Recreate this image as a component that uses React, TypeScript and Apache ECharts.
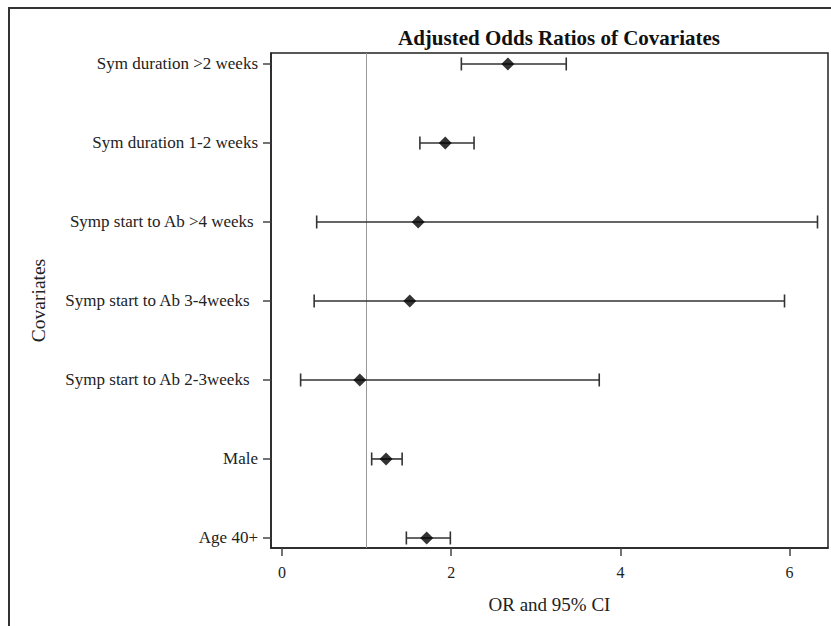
import React, { useEffect, useRef } from "react";
import * as echarts from "echarts";

const categories = [
  "Age 40+",
  "Male",
  "Symp start to Ab 2-3weeks  ",
  "Symp start to Ab 3-4weeks  ",
  "Symp start to Ab >4 weeks ",
  "Sym duration 1-2 weeks",
  "Sym duration >2 weeks",
];
const oddsRatio = [1.71, 1.23, 0.92, 1.51, 1.61, 1.93, 2.67];
const lowerCI = [1.47, 1.06, 0.22, 0.38, 0.41, 1.63, 2.12];
const upperCI = [1.99, 1.42, 3.75, 5.94, 6.33, 2.27, 3.36];
const xTicks = [0, 2, 4, 6];
const refValue = 1;

const FONT = "'Liberation Serif', 'DejaVu Serif', serif";

export default function App() {
  const ref = useRef<HTMLDivElement>(null);
  useEffect(() => {
    if (!ref.current) return;
    const chart = echarts.init(ref.current, null, { renderer: "svg" });
    const idx = categories.map((_, i) => i);
    const ciData = idx.map((i) => [lowerCI[i], upperCI[i], i]);
    const pointData = idx.map((i) => [oddsRatio[i], i]);
    chart.setOption({
      animation: false,
      backgroundColor: "#fff",
      title: {
        text: "Adjusted Odds Ratios of Covariates",
        left: 554,
        top: 22,
        textAlign: "center",
        textStyle: { fontFamily: FONT, fontSize: 21, fontWeight: "bold", color: "#111" },
      },
      graphic: [
        {
          type: "rect",
          shape: { x: 9, y: 8, width: 1000, height: 800 },
          style: { fill: "none", stroke: "#333", lineWidth: 2 },
          silent: true,
        },
      ],
      grid: {
        left: 271,
        top: 53,
        width: 557,
        height: 495,
        show: true,
        borderColor: "#222",
        borderWidth: 1.5,
        backgroundColor: "transparent",
      },
      xAxis: {
        type: "value",
        min: -0.13,
        max: 6.454,
        name: "OR and 95% CI",
        nameLocation: "middle",
        nameGap: 47,
        nameTextStyle: { fontFamily: FONT, fontSize: 19, color: "#222" },
        splitLine: { show: false },
        axisLine: { show: true, onZero: false, lineStyle: { color: "#222", width: 1.5 } },
        axisTick: { show: true, length: 8, customValues: xTicks, lineStyle: { color: "#444", width: 1.5 } },
        axisLabel: {
          customValues: xTicks,
          margin: 16,
          fontFamily: FONT,
          fontSize: 16,
          color: "#222",
        },
      },
      yAxis: {
        type: "value",
        min: -0.127,
        max: 6.139,
        name: "Covariates",
        nameLocation: "middle",
        nameGap: 223,
        nameRotate: 90,
        nameTextStyle: { fontFamily: FONT, fontSize: 19.5, color: "#222" },
        splitLine: { show: false },
        axisLine: { show: true, onZero: false, lineStyle: { color: "#222", width: 1.5 } },
        axisTick: { show: true, length: 8, customValues: idx, lineStyle: { color: "#444", width: 1.5 } },
        axisLabel: {
          customValues: idx,
          margin: 13,
          fontFamily: FONT,
          fontSize: 17,
          color: "#222",
          formatter: (v: number) => categories[Math.round(v)] ?? "",
        },
      },
      series: [
        {
          type: "custom",
          silent: true,
          z: 2,
          data: ciData,
          encode: { x: [0, 1], y: 2 },
          renderItem: (params: any, api: any) => {
            const lo = api.coord([api.value(0), api.value(2)]);
            const hi = api.coord([api.value(1), api.value(2)]);
            const cap = 6.5;
            const style = { stroke: "#333", lineWidth: 1.6 };
            return {
              type: "group",
              children: [
                { type: "line", shape: { x1: lo[0], y1: lo[1], x2: hi[0], y2: hi[1] }, style },
                { type: "line", shape: { x1: lo[0], y1: lo[1] - cap, x2: lo[0], y2: lo[1] + cap }, style },
                { type: "line", shape: { x1: hi[0], y1: hi[1] - cap, x2: hi[0], y2: hi[1] + cap }, style },
              ],
            };
          },
        },
        {
          type: "scatter",
          z: 3,
          silent: true,
          symbol: "diamond",
          symbolSize: [13, 13],
          itemStyle: { color: "#000" },
          data: pointData,
          markLine: {
            silent: true,
            symbol: "none",
            label: { show: false },
            lineStyle: { color: "#999", width: 1, type: "solid" },
            data: [{ xAxis: refValue }],
            z: 1,
          },
        },
      ],
    });
    return () => chart.dispose();
  }, []);
  return (
    <div
      ref={ref}
      style={{ position: "fixed", left: 0, top: 0, width: 831, height: 626, background: "#fff" }}
    />
  );
}
